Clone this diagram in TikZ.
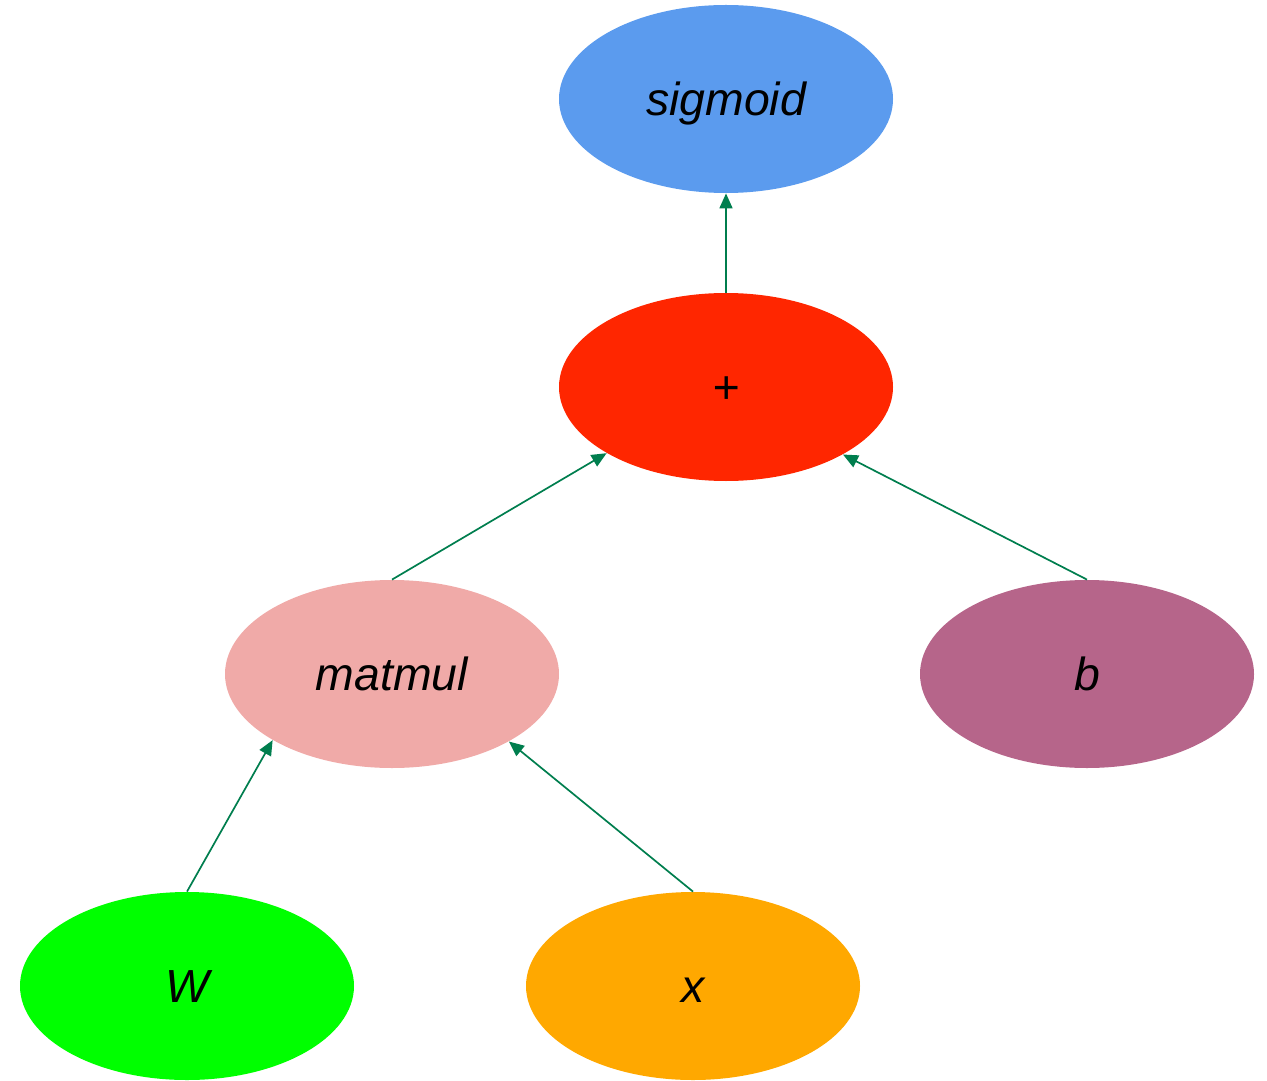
\documentclass[tikz,border=0pt]{standalone}
\usepackage{fontspec}
\setmainfont{Liberation Sans}
\usetikzlibrary{shapes.geometric,arrows.meta}
\definecolor{cSig}{HTML}{5B9BEE}
\definecolor{cPlus}{HTML}{FF2600}
\definecolor{cMat}{HTML}{F0AAA8}
\definecolor{cB}{HTML}{B6658A}
\definecolor{cW}{HTML}{00FF00}
\definecolor{cX}{HTML}{FFA800}
\definecolor{cEdge}{HTML}{007E4E}
\tikzset{
  opnode/.style={ellipse, draw=none, inner sep=0pt, minimum width=167pt, minimum height=94pt,
    text height=16.5pt, text depth=0pt,
    font=\fontsize{23.2}{28}\selectfont\itshape},
  edgeline/.style={draw=cEdge, line width=0.85pt, -{Triangle[length=7.5pt,width=6.5pt]}}
}
\begin{document}
\begin{tikzpicture}[x=0.5pt,y=-0.5pt]
\useasboundingbox (0,0) rectangle (1267,1080);
\node[opnode, fill=cSig] (sig) at (726,99) {sigmoid};
\node[opnode, fill=cPlus] (plus) at (726,387) {+};
\node[opnode, fill=cMat] (mat) at (392,674) {matmul};
\node[opnode, fill=cB] (b) at (1087,674) {b};
\node[opnode, fill=cW] (w) at (187,986) {W};
\node[opnode, fill=cX] (x) at (693,986) {x};
\draw[edgeline] (plus.north) -- (sig.south);
\draw[edgeline] (mat.north) -- (plus.209.4);
\draw[edgeline] (b.north) -- (plus.330.6);
\draw[edgeline] (w.north) -- (mat.209.4);
\draw[edgeline] (x.north) -- (mat.330.6);
\end{tikzpicture}
\end{document}
